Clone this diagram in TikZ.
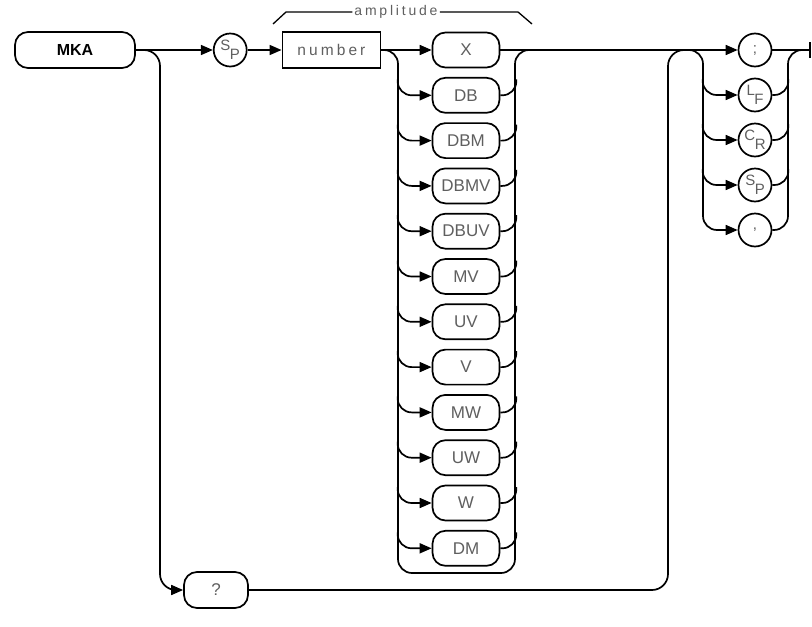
\documentclass[tikz,border=0pt]{standalone}
\usepackage{fontspec}
\setmainfont{Liberation Sans}
\newfontfamily\spacedfont[LetterSpace=20]{Liberation Sans}
\usetikzlibrary{arrows.meta,positioning,calc}
\definecolor{labelgray}{RGB}{95,95,95}
\newcommand{\ctlchar}[2]{\raisebox{4pt}{#1}\kern-0.5pt\raisebox{-4.5pt}{#2}}

\begin{document}
\begin{tikzpicture}[
    x=1pt, y=-1pt,
    rail/.style={line width=1.7pt, line join=round},
    arrow/.style={rail, -{Triangle[length=12pt,width=10pt]}},
    kwbox/.style={rectangle, rounded corners=13pt, draw, line width=1.7pt,
                  minimum width=67pt, minimum height=35pt, inner sep=1pt,
                  font=\fontsize{17}{17}\selectfont, text=labelgray},
    mainbox/.style={kwbox, minimum width=120pt, minimum height=36pt,
                    font=\fontsize{16}{16}\selectfont\bfseries, text=black},
    parambox/.style={rectangle, draw, line width=1.7pt, minimum width=98pt,
                     minimum height=36pt, font=\spacedfont\fontsize{15.5}{15.5}\selectfont, text=labelgray},
    termcirc/.style={circle, draw, line width=1.7pt, minimum size=33pt, inner sep=0pt,
                     font=\fontsize{15}{15}\selectfont, text=labelgray}
]
\useasboundingbox (0,0) rectangle (812,627);

% Command and parameter
\node[mainbox] (mka) at (75,50) {MKA};
\node[termcirc, right=77pt of mka] (sp1) {\ctlchar{S}{P}};
\node[parambox, right=34pt of sp1] (num) {number};
\node[kwbox, minimum width=64pt, minimum height=36pt] (query) at (216,590) {?};

% Amplitude bracket
\node[font=\spacedfont\fontsize{14}{14}\selectfont, text=labelgray, inner sep=2pt] (amp) at (396,12) {amplitude};
\draw[line width=1.3pt] (amp.west) -- (286,12) -- (273,24);
\draw[line width=1.3pt] (amp.east) -- (518,12) -- (532,24);

% Units
\foreach \u [count=\i from 0] in {X,DB,DBM,DBMV,DBUV,MV,UV,V,MW,UW,W,DM}{
  \node[kwbox] (u-\u) at (466,{50+45.3*\i}) {\u};
  \ifnum\i>0
    \draw[arrow, rounded corners=14pt] ($(u-\u.west)+(-34,-16)$) |- (u-\u.west);
    \draw[rail, rounded corners=14pt] (u-\u.east) -| ($(u-\u.east)+(16,-16)$);
  \fi
}

% Unit rails
\coordinate (ltop) at (398,50);
\coordinate (lbot) at (398,573);
\coordinate (rbot) at (515,573);
\coordinate (rtop) at (515,50);
\coordinate (ujoin) at (530,50);
\draw[rail, rounded corners=14pt] (num.east) -- (ltop) -- (lbot) -- (rbot) -- (rtop) -- (ujoin);

% Terminators
\node[termcirc] (semi) at (755,50) {;};
\foreach \t/\a/\b [count=\i] in {lf/L/F, cr/C/R, sp2/S/P}{
  \node[termcirc] (\t) at (755,{50+45*\i}) {\ctlchar{\a}{\b}};
  \draw[arrow, rounded corners=14pt] ($(\t.west)+(-35,-16)$) |- (\t.west);
  \draw[rail, rounded corners=14pt] (\t.east) -| ($(\t.east)+(16,-16)$);
}
\node[termcirc] (comma) at (755,230) {,};

% Main connectors
\draw[arrow] (mka.east) -- (sp1.west);
\draw[arrow] (sp1.east) -- (num.west);
\draw[arrow] (num.east) -- (u-X.west);
\draw[arrow] (u-X.east) -- (semi.west);
\coordinate (endc) at (810,50);
\draw[rail] (semi.east) -- (endc);
\draw[rail] ($(endc)+(0,-8)$) -- ($(endc)+(0,8)$);

% Query path
\coordinate (qrail) at (160,590);
\coordinate (qback) at (668,50);
\coordinate (qjoin) at (690,50);
\draw[arrow, rounded corners=16pt] (mka.east) -| (qrail) -- (query.west);
\draw[rail, rounded corners=16pt] (query.east) -| (qback) -- (qjoin);

% Terminator rails
\coordinate (tjoin) at (688,50);
\coordinate (tlbot) at (703,230);
\coordinate (trtop) at (788,50);
\coordinate (tend) at (802,50);
\draw[arrow, rounded corners=14pt] (tjoin) -| (tlbot) -- (comma.west);
\draw[rail, rounded corners=14pt] (comma.east) -| (trtop) -- (tend);

\end{tikzpicture}
\end{document}
